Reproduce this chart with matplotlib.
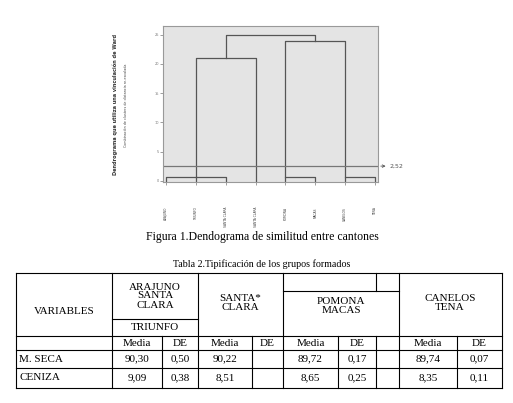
import matplotlib
matplotlib.use("Agg")
import matplotlib.pyplot as plt

# ---- data ----
leaf_labels = ["ARAJUNO", "TRIUNFO", "SANTA CLARA", "SANTA CLARA", "POMONA", "MACAS", "CANELOS", "TENA"]
small_merge_h = 0.6
left_join_h = 21.0
right_join_h = 24.0
top_join_h = 25.0
cutoff = 2.52
yticks = [0, 5, 10, 15, 20, 25]

groups = ["ARAJUNO\nSANTA\nCLARA", "SANTA*\nCLARA", "POMONA\nMACAS", "CANELOS\nTENA"]
row_names = ["M. SECA", "CENIZA"]
media = [[90.30, 90.22, 89.72, 89.74], [9.09, 8.51, 8.65, 8.35]]
de = [[0.50, None, 0.17, 0.07], [0.38, None, 0.25, 0.11]]

def fmt(v):
    return "" if v is None else f"{v:.2f}".replace(".", ",")

fig = plt.figure(figsize=(5.13, 4.03), dpi=100)
fig.patch.set_facecolor("white")

# ---- dendrogram ----
W, H = 513, 403
ax = fig.add_axes([163 / W, (H - 182) / H, 215 / W, 156 / H])
ax.set_facecolor("#e4e4e4")
for s in ax.spines.values():
    s.set_color("#999999"); s.set_linewidth(0.8)
lc = dict(color="#555555", lw=0.9)
ax.plot([1, 1, 3, 3], [0, small_merge_h, small_merge_h, 0], **lc)
ax.plot([2, 2], [0, small_merge_h], **lc)
ax.plot([5, 5, 6, 6], [0, small_merge_h, small_merge_h, 0], **lc)
ax.plot([7, 7, 8, 8], [0, small_merge_h, small_merge_h, 0], **lc)
ax.plot([2, 2, 4, 4], [small_merge_h, left_join_h, left_join_h, 0], **lc)
ax.plot([5, 5, 7, 7], [small_merge_h, right_join_h, right_join_h, small_merge_h], **lc)
ax.plot([3, 3, 6, 6], [left_join_h, top_join_h, top_join_h, right_join_h], **lc)
ax.axhline(cutoff, color="#777777", lw=0.9)
ax.annotate("2,52", xy=(8.45, cutoff), xytext=(8.1, cutoff), fontsize=4.5, color="#555555",
            va="center", annotation_clip=False,
            arrowprops=dict(arrowstyle="->", color="#555555", lw=0.6))
ax.text(8.5, cutoff, "2,52", fontsize=4.5, color="#555555", va="center")
ax.texts[-2].set_text("")
ax.set_xlim(0.9, 8.1)
ax.set_ylim(-0.2, 26.5)
ax.set_xticks(range(1, 9))
ax.set_xticklabels([""] * 8)
ax.set_yticks(yticks)
ax.set_yticklabels([str(t) for t in yticks], fontsize=2.5, color="#666666")
ax.tick_params(length=2, width=0.5, colors="#777777", pad=1)
for i, lab in enumerate(leaf_labels):
    ax.text(i + 1, -4.5, lab, rotation=90, fontsize=2.2, ha="center", va="top", color="#444444")
ax.text(-0.7, 13, "Dendrograma que utiliza una vinculación de Ward", rotation=90,
        fontsize=3.6, fontweight="bold", ha="center", va="center", color="#333333")
ax.text(-0.35, 13, "Combinación de clusters de distancia re-escalada", rotation=90,
        fontsize=2.4, ha="center", va="center", color="#444444")

# ---- overlay for captions and table ----
ov = fig.add_axes([0, 0, 1, 1], zorder=-1)
ov.set_xlim(0, W); ov.set_ylim(H, 0); ov.axis("off")
serif = "Liberation Serif"
ov.text(262, 237, "Figura 1.Dendograma de similitud entre cantones", ha="center", va="center",
        fontsize=8.5, family=serif)
ov.text(262, 264, "Tabla 2.Tipificación de los grupos formados", ha="center", va="center",
        fontsize=7.2, family=serif)

top, hb, r1, r2, bot = 273, 336, 350, 368, 388
k = dict(color="black", lw=0.8)
for y in [top, hb, r1, r2, bot]:
    ov.plot([16, 502], [y, y], **k)
for x in [16, 112, 198, 283, 399, 502]:
    ov.plot([x, x], [top, bot], **k)
for x in [162, 252, 338, 376, 457]:
    ov.plot([x, x], [hb, bot], **k)
ov.plot([112, 198], [319, 319], **k)
ov.plot([283, 399], [291, 291], **k)
ov.plot([376, 376], [top, 291], **k)

fs = 8
ov.text(64, 311, "VARIABLES", ha="center", va="center", fontsize=fs, family=serif)
ov.text(155, 296, groups[0], ha="center", va="center", fontsize=fs, family=serif, linespacing=1.0)
ov.text(155, 328, "TRIUNFO", ha="center", va="center", fontsize=fs, family=serif)
ov.text(240, 303, groups[1], ha="center", va="center", fontsize=fs, family=serif, linespacing=1.0)
ov.text(341, 306, groups[2], ha="center", va="center", fontsize=fs, family=serif, linespacing=1.0)
ov.text(450, 303, groups[3], ha="center", va="center", fontsize=fs, family=serif, linespacing=1.0)

media_cols = [(112, 162), (198, 252), (283, 338), (399, 457)]
de_cols = [(162, 198), (252, 283), (338, 376), (457, 502)]
for (a, b) in media_cols:
    ov.text((a + b) / 2, (hb + r1) / 2, "Media", ha="center", va="center", fontsize=fs, family=serif)
for (a, b) in de_cols:
    ov.text((a + b) / 2, (hb + r1) / 2, "DE", ha="center", va="center", fontsize=fs, family=serif)
for r, (y0, y1) in enumerate([(r1, r2), (r2, bot)]):
    yc = (y0 + y1) / 2
    ov.text(19, yc, row_names[r], ha="left", va="center", fontsize=fs, family=serif)
    for g in range(4):
        a, b = media_cols[g]
        ov.text((a + b) / 2, yc, fmt(media[r][g]), ha="center", va="center", fontsize=fs, family=serif)
        a, b = de_cols[g]
        ov.text((a + b) / 2, yc, fmt(de[r][g]), ha="center", va="center", fontsize=fs, family=serif)

fig.savefig("out.png", dpi=100)
